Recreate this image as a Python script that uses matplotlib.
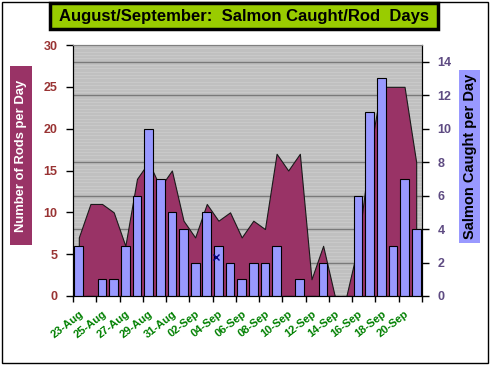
import numpy as np
import matplotlib
matplotlib.use('Agg')
import matplotlib.pyplot as plt
from matplotlib.patches import Rectangle

plt.rcParams['font.family'] = ['Liberation Sans', 'DejaVu Sans']

# daily data 23-Aug .. 21-Sep
days = ['23-Aug', '24-Aug', '25-Aug', '26-Aug', '27-Aug', '28-Aug', '29-Aug', '30-Aug',
        '31-Aug', '01-Sep', '02-Sep', '03-Sep', '04-Sep', '05-Sep', '06-Sep', '07-Sep',
        '08-Sep', '09-Sep', '10-Sep', '11-Sep', '12-Sep', '13-Sep', '14-Sep', '15-Sep',
        '16-Sep', '17-Sep', '18-Sep', '19-Sep', '20-Sep', '21-Sep']
rods = [7, 11, 11, 10, 6, 14, 16, 13, 15, 9, 7, 11, 9, 10, 7, 9, 8, 17, 15, 17,
        2, 6, 0, 0, 6, 17, 25, 25, 25, 16]
salmon = [3, 0, 1, 1, 3, 6, 10, 7, 5, 4, 2, 5, 3, 2, 1, 2, 2, 3, 0, 1,
          0, 2, 0, 0, 6, 11, 13, 3, 7, 4]
# stray marker sitting on the 04-Sep bar
mark_day = '04-Sep'
mark_value = 2.35

W, H = 490, 366
fig = plt.figure(figsize=(W / 100, H / 100), dpi=100)

ax = fig.add_axes([73 / W, 1 - 296 / H, 349 / W, 251 / H])
x = np.arange(len(days))

# plot area: gray with faint stripes and dark gridlines
ax.set_facecolor('#c0c0c0')
ax.set_axisbelow(True)
ax.hlines(np.arange(0.4, 30, 0.4), -0.5, len(days) - 0.5, color='#cdcdcd', lw=0.5, zorder=0.2)
ax.fill_between(x, rods, color='#993366', edgecolor='#1a1a1a', lw=0.8, zorder=1)

ax.set_xlim(-0.5, len(days) - 0.5)
ax.set_ylim(0, 30)
ax.set_yticks(range(0, 31, 5))
ax.set_yticks(np.arange(4, 29, 4), minor=True)
ax.grid(which='minor', axis='y', color='#7a7a7a', lw=1)
ax.tick_params(axis='y', which='minor', length=0)
ax.tick_params(axis='y', which='major', length=5, width=1, direction='out',
               labelcolor='#993333', labelsize=9, pad=6)
for t in ax.get_yticklabels():
    t.set_fontweight('bold')

# x ticks on category boundaries, labels on every 2nd category
ax.set_xticks(np.arange(-0.5, len(days), 2))
ax.set_xticks(x[::2], minor=True)
ax.set_xticklabels(days[::2], minor=True, rotation=38, ha='right',
                   rotation_mode='anchor', color='#008000', fontweight='bold', fontsize=8)
ax.tick_params(axis='x', which='major', labelbottom=False, length=4, width=1)
ax.tick_params(axis='x', which='minor', length=0, pad=9)

for s in ['left', 'bottom']:
    ax.spines[s].set_color('black')
ax.spines['top'].set_color('#808080')

ax2 = ax.twinx()
ax2.bar(x, salmon, width=0.75, color='#9999ff', edgecolor='black', lw=0.8, zorder=2)
ax2.plot(days.index(mark_day) - 0.2, mark_value, marker='x', color='#000080',
         ms=4, mew=1, zorder=3)
ax2.set_ylim(0, 15)
ax2.set_yticks(range(0, 15, 2))
ax2.tick_params(axis='y', length=5, width=1, direction='out',
                labelcolor='#5e4b82', labelsize=9, pad=6)
for t in ax2.get_yticklabels():
    t.set_fontweight('bold')
ax2.spines['right'].set_color('black')
ax2.spines['top'].set_color('#808080')

# title box
fig.patches.append(Rectangle((50 / W, 1 - 29 / H), 388 / W, 26 / H, transform=fig.transFigure,
                             fc='#99cc00', ec='black', lw=2.5))
fig.text(244 / W, 1 - 16.5 / H, 'August/September:  Salmon Caught/Rod  Days',
         ha='center', va='center', fontsize=12, fontweight='bold', color='black')

# axis label boxes
fig.patches.append(Rectangle((10 / W, 1 - 245 / H), 22 / W, 179 / H, transform=fig.transFigure,
                             fc='#993366', ec='none'))
fig.text(21 / W, 1 - 155.5 / H, 'Number of Rods per Day', rotation=90, ha='center',
         va='center', color='white', fontsize=9.4, fontweight='bold')
fig.patches.append(Rectangle((459 / W, 1 - 243 / H), 21 / W, 173 / H, transform=fig.transFigure,
                             fc='#9999ff', ec='none'))
fig.text(469.5 / W, 1 - 156.5 / H, 'Salmon Caught per Day', rotation=90, ha='center',
         va='center', color='black', fontsize=10.5, fontweight='bold')

# outer border
fig.patches.append(Rectangle((1.5 / W, 1 - 363 / H), 486.5 / W, 361.5 / H,
                             transform=fig.transFigure, fc='none', ec='black', lw=1))

fig.savefig('out.png', dpi=100)
